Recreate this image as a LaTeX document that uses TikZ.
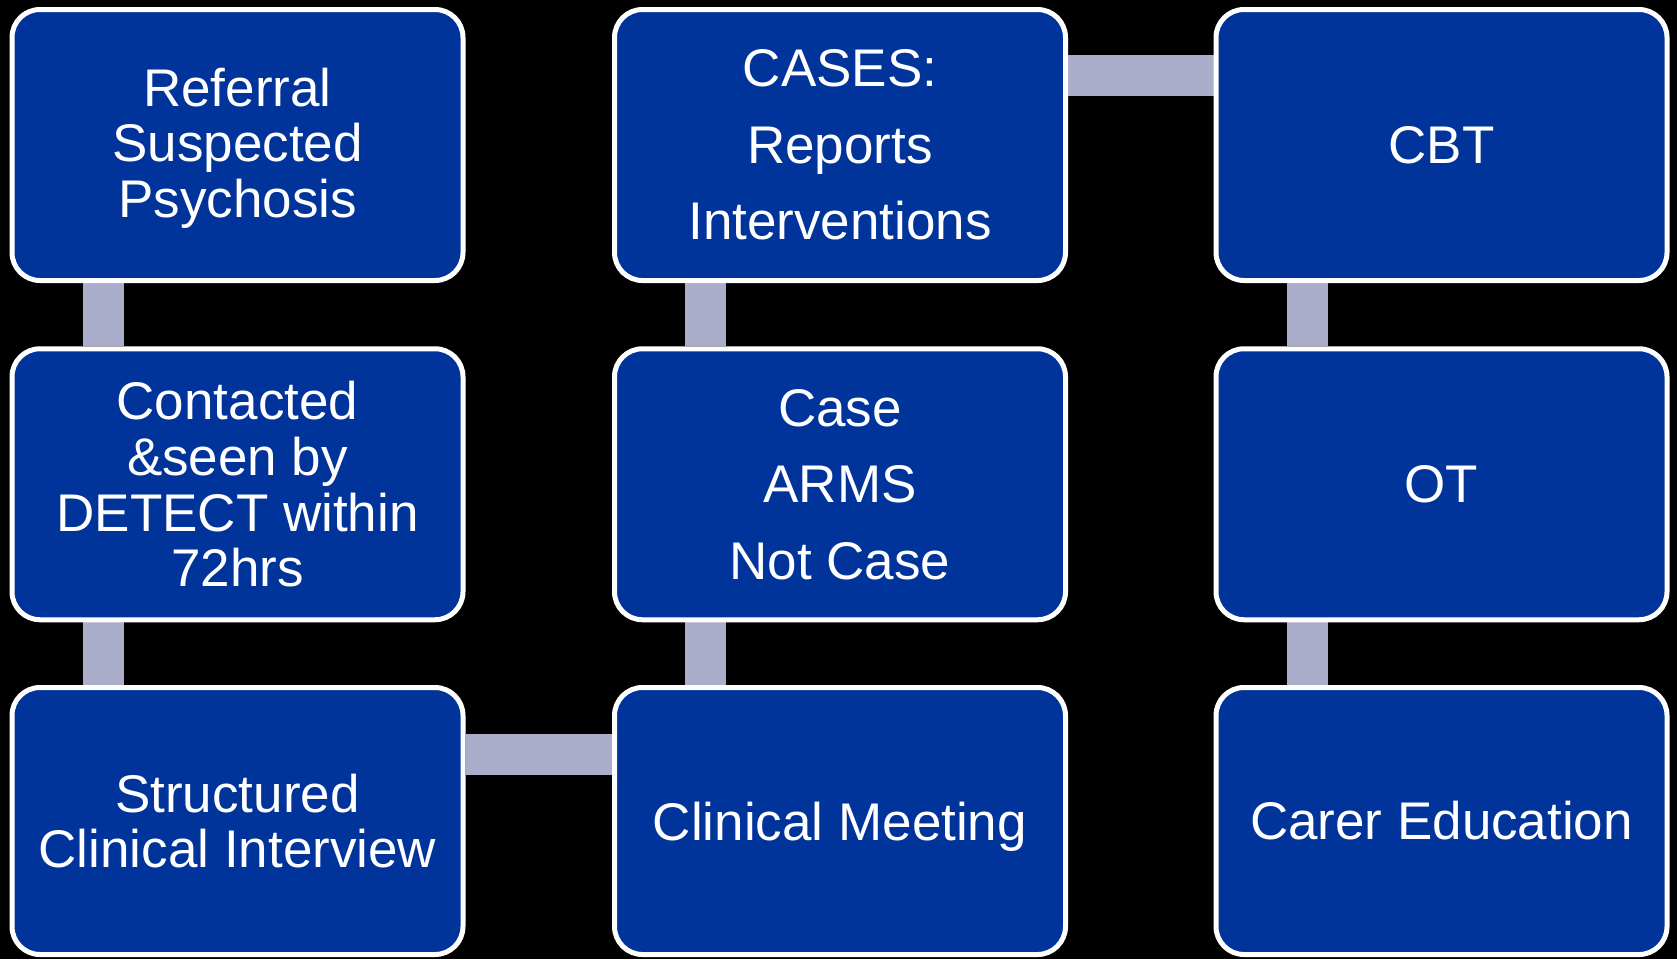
\documentclass[tikz,border=0pt]{standalone}
\usepackage{fontspec}
\setmainfont{Liberation Sans}
\usetikzlibrary{backgrounds}
\definecolor{boxblue}{RGB}{0,52,154}
\definecolor{linkgrey}{RGB}{171,174,202}
\tikzset{
  stagebox/.style={rectangle, rounded corners=28pt, draw=white, line width=5pt,
    fill=boxblue, text=white, align=center, inner sep=0pt,
    minimum width=451pt, minimum height=271pt},
  shortrow/.style={minimum height=267pt},
  tight/.style={font=\fontsize{53}{55.6}\selectfont},
  loose/.style={font=\fontsize{53}{76.5}\selectfont},
  link/.style={draw=linkgrey, line width=41pt}
}
\begin{document}
\begin{tikzpicture}[x=1pt,y=-1pt]
  % left column
  \node[stagebox, tight, text depth=5pt] (refer) at (237.5,145) {Referral\\Suspected\\Psychosis};
  \node[stagebox, tight] (seen) at (237.5,484.25) {Contacted\\\&seen by\\DETECT within\\72hrs};
  \node[stagebox, shortrow, tight] (interview) at (237.5,821) {Structured\\Clinical Interview};

  % middle column
  \node[stagebox, loose] (cases) at (840,145) {CASES:\\Reports\\Interventions};
  \node[stagebox, loose] (arms) at (840,484.25) {Case\\ARMS\\Not Case};
  \node[stagebox, shortrow, tight, text depth=0pt] (meeting) at (840,821) {Clinical Meeting};

  % right column
  \node[stagebox, tight] (cbt) at (1441.5,145) {CBT};
  \node[stagebox, tight] (ot) at (1441.5,484.25) {OT};
  \node[stagebox, shortrow, tight] (carer) at (1441.5,821) {Carer Education};

  % black ground, then the connecting bars, all behind the boxes
  \begin{scope}[on background layer]
    \fill[black] (0,0) rectangle (1677,959);
    \draw[link] ([xshift=93.5pt]refer.south west) -- ([xshift=93.5pt]seen.north west);
    \draw[link] ([xshift=93.5pt]seen.south west) -- ([xshift=93.5pt]interview.north west);
    \draw[link] ([yshift=-69pt]interview.north east) -- ([yshift=-69pt]meeting.north west);
    \draw[link] ([xshift=93.5pt]meeting.north west) -- ([xshift=93.5pt]arms.south west);
    \draw[link] ([xshift=93.5pt]arms.north west) -- ([xshift=93.5pt]cases.south west);
    \draw[link] ([yshift=-68.5pt]cases.north east) -- ([yshift=-68.5pt]cbt.north west);
    \draw[link] ([xshift=93.5pt]cbt.south west) -- ([xshift=93.5pt]ot.north west);
    \draw[link] ([xshift=93.5pt]ot.south west) -- ([xshift=93.5pt]carer.north west);
  \end{scope}
\end{tikzpicture}
\end{document}
